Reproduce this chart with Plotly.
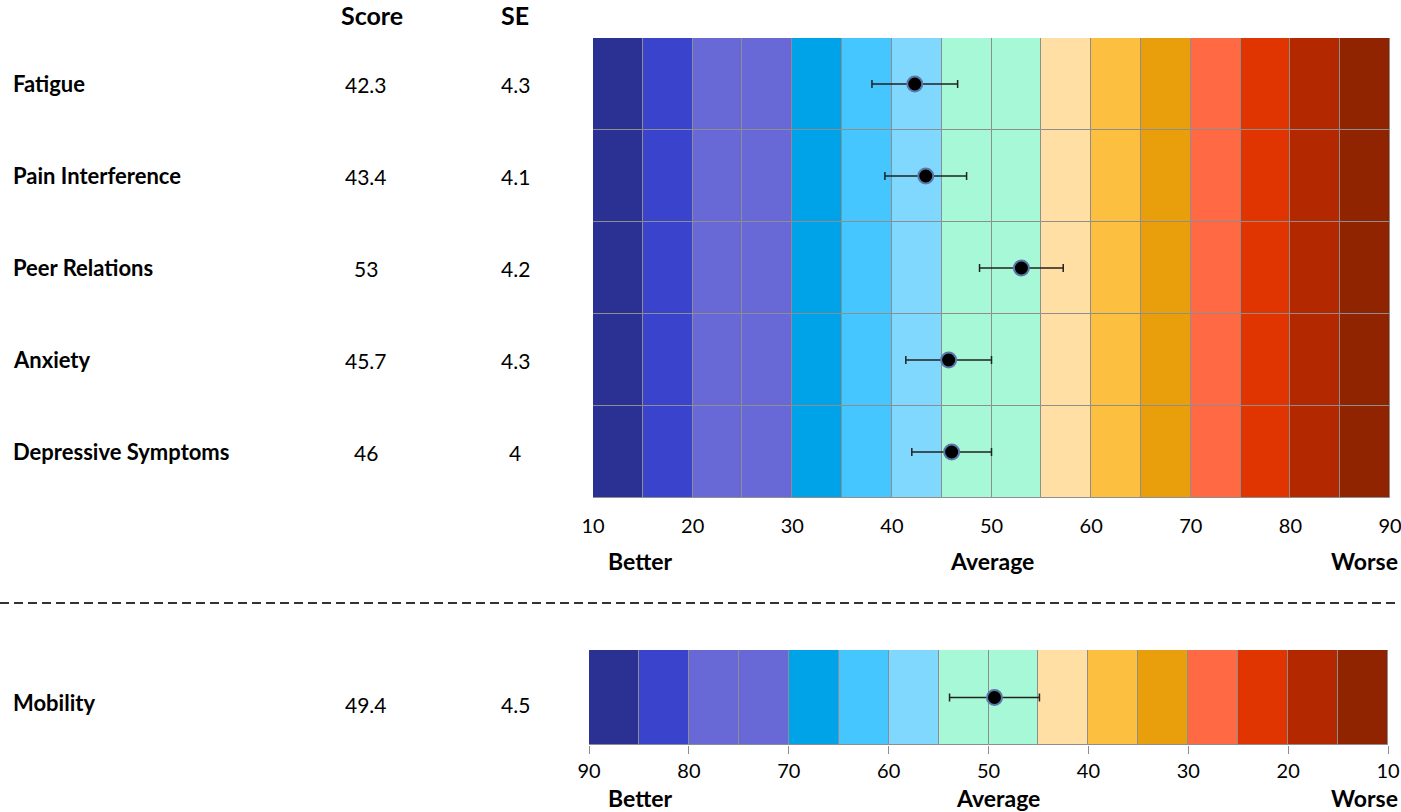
import plotly.graph_objects as go

# ---------------- data ----------------
categories = ["Fatigue", "Pain Interference", "Peer Relations", "Anxiety", "Depressive Symptoms"]
scores = [42.3, 43.4, 53, 45.7, 46]
ses = [4.3, 4.1, 4.2, 4.3, 4]

mobility_category = ["Mobility"]
mobility_score = [49.4]
mobility_se = [4.5]

band_starts = [10, 15, 20, 25, 30, 35, 40, 45, 50, 55, 60, 65, 70, 75, 80, 85]
band_width = 5
band_colors = ["#2B3192", "#3A43CC", "#6869D6", "#6869D6", "#00A2E8", "#45C6FF",
               "#80D8FF", "#A6F8D6", "#A6F8D6", "#FFDFA4", "#FDBF40", "#E99E0C",
               "#FF6A45", "#E03500", "#B42800", "#912400"]
tick_vals = [10, 20, 30, 40, 50, 60, 70, 80, 90]
scale_labels = ["Better", "Average", "Worse"]

FONT = "Lato"
W, H = 1401, 812

fig = go.Figure()

# top panel bands
n = len(categories)
for start, col in zip(band_starts, band_colors):
    fig.add_trace(go.Bar(
        y=categories, x=[band_width] * n, base=[start] * n, orientation="h",
        width=1, marker=dict(color=col, line=dict(color="#8E8E8E", width=1)),
        xaxis="x", yaxis="y", showlegend=False, hoverinfo="skip"))

# bottom panel bands: position-ordered colours on a reversed axis
for start, col in zip(band_starts, band_colors):
    fig.add_trace(go.Bar(
        y=mobility_category, x=[band_width], base=[100 - start - band_width], orientation="h",
        width=1, marker=dict(color=col, line=dict(color="#8E8E8E", width=1)),
        xaxis="x2", yaxis="y2", showlegend=False, hoverinfo="skip"))

marker_style = dict(size=15, color="black", line=dict(color="#5A78A8", width=2))
err_style = dict(type="data", color="#222222", thickness=1.5, width=4)

fig.add_trace(go.Scatter(
    x=scores, y=categories, mode="markers", marker=marker_style,
    error_x=dict(array=ses, **err_style), xaxis="x", yaxis="y", showlegend=False))
fig.add_trace(go.Scatter(
    x=mobility_score, y=mobility_category, mode="markers", marker=marker_style,
    error_x=dict(array=mobility_se, **err_style), xaxis="x2", yaxis="y2", showlegend=False))


def px_x(p):
    return p / W


def px_y(p):
    return 1 - p / H


def txt(text, x, y, yref="paper", size=21, anchor="center", yshift=0, yanchor="middle"):
    return dict(text=text, x=x, y=y, xref="paper", yref=yref, xanchor=anchor,
                yanchor=yanchor, yshift=yshift, showarrow=False,
                font=dict(size=size, family=FONT, color="black"))


annotations = []
annotations.append(txt("<b>Score</b>", px_x(372), 1, size=25, yanchor="top", yshift=2))
annotations.append(txt("<b>SE</b>", px_x(515), 1, size=25, yanchor="top", yshift=2))

for cat, s, e in zip(categories, scores, ses):
    annotations.append(txt(f"<b>{cat}</b>", px_x(11), cat, yref="y", size=22, anchor="left", yshift=1))
    annotations.append(txt(f"{s:g}", px_x(366), cat, yref="y", size=21, yshift=0))
    annotations.append(txt(f"{e:g}", px_x(515), cat, yref="y", size=21, yshift=0))

for cat, s, e in zip(mobility_category, mobility_score, mobility_se):
    annotations.append(txt(f"<b>{cat}</b>", px_x(11), cat, yref="y2", size=22, anchor="left", yshift=-5))
    annotations.append(txt(f"{s:g}", px_x(366), cat, yref="y2", size=21, yshift=-7))
    annotations.append(txt(f"{e:g}", px_x(515), cat, yref="y2", size=21, yshift=-7))

for lbl, xp in zip(scale_labels, [640, 992, 1364]):
    annotations.append(txt(f"<b>{lbl}</b>", px_x(xp), px_y(561), size=23))
for lbl, xp in zip(scale_labels, [640, 998, 1364]):
    annotations.append(txt(f"<b>{lbl}</b>", px_x(xp), px_y(798), size=23))

fig.update_layout(
    width=W, height=H,
    margin=dict(l=0, r=0, t=0, b=0, autoexpand=False),
    paper_bgcolor="white", plot_bgcolor="white",
    barmode="overlay", bargap=0,
    annotations=annotations,
    shapes=[dict(type="line", xref="paper", yref="paper", x0=0, x1=px_x(1400),
                 y0=px_y(603), y1=px_y(603),
                 line=dict(color="#333333", width=2, dash="9px,5px"))],
    xaxis=dict(domain=[px_x(593), px_x(1390)], range=[10, 90], tickvals=tick_vals,
               showgrid=False, zeroline=False, ticks="", ticklabelstandoff=14,
               showline=False, automargin=False, ticklabeloverflow="allow",
               tickfont=dict(size=20, family=FONT, color="black"), fixedrange=True),
    yaxis=dict(domain=[px_y(498), px_y(38)], range=[4.5, -0.5], showticklabels=False,
               showgrid=False, zeroline=False, automargin=False, fixedrange=True),
    xaxis2=dict(domain=[px_x(589), px_x(1388)], range=[90, 10], tickvals=tick_vals,
                showgrid=False, zeroline=False, ticks="outside", ticklen=8, tickcolor="#8E8E8E",
                tickwidth=1, showline=False, anchor="y2", automargin=False,
                ticklabeloverflow="allow",
                tickfont=dict(size=20, family=FONT, color="black"), fixedrange=True),
    yaxis2=dict(domain=[px_y(745), px_y(650)], range=[-0.5, 0.5], showticklabels=False,
                showgrid=False, zeroline=False, anchor="x2", automargin=False, fixedrange=True),
)

fig.write_html("out.html", config={"displayModeBar": False},
               post_script="document.body.style.margin='0';document.body.style.overflow='hidden';")
